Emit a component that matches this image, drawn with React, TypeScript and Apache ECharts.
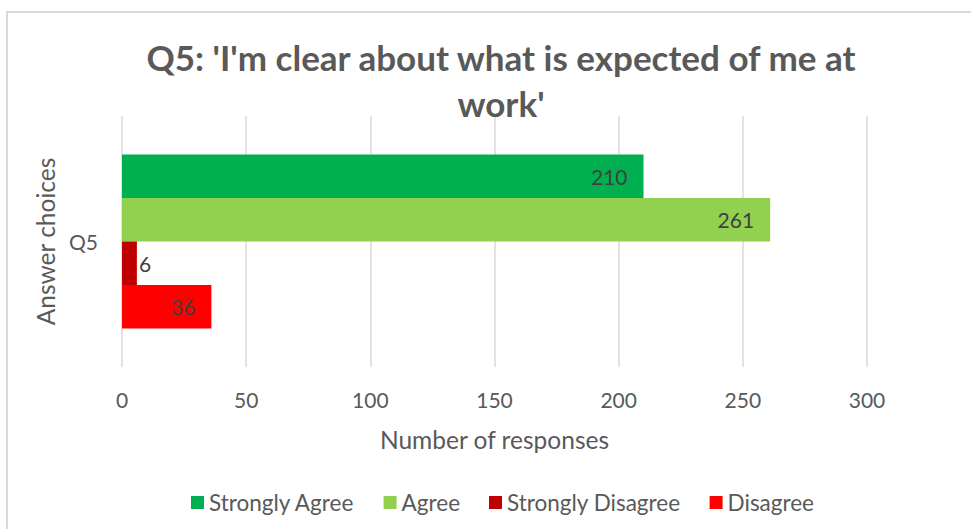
import React, { useEffect, useRef } from "react";
import * as echarts from "echarts";

const categories = ["Q5"];
const seriesNames = ["Strongly Agree", "Agree", "Strongly Disagree", "Disagree"];
const stronglyAgree = [210];
const agree = [261];
const stronglyDisagree = [6];
const disagree = [36];
const xTicks = { min: 0, max: 300, interval: 50 };

const colors = ["#00B050", "#92D050", "#C00000", "#FF0000"];
const FONT = "Lato";

export default function App() {
  const ref = useRef<HTMLDivElement>(null);
  useEffect(() => {
    if (!ref.current) return;
    const chart = echarts.init(ref.current, null, { renderer: "svg" });
    const values = [stronglyAgree, agree, stronglyDisagree, disagree];
    const labelCfg = (i: number) =>
      i === 2
        ? { show: true, position: "right", distance: 2 }
        : { show: true, position: "insideRight", distance: 16 };
    chart.setOption({
      animation: false,
      backgroundColor: "#ffffff",
      textStyle: { fontFamily: FONT },
      title: {
        text: "Q5: 'I'm clear about what is expected of me at\nwork'",
        left: 496,
        top: 29,
        textAlign: "center",
        textStyle: {
          fontFamily: FONT,
          fontWeight: "bold",
          fontSize: 35,
          lineHeight: 46,
          color: "#595959",
        },
      },
      legend: {
        data: seriesNames,
        left: 191,
        top: 491,
        padding: 0,
        itemWidth: 13,
        itemHeight: 13,
        itemGap: 29,
        icon: "rect",
        textStyle: { fontFamily: FONT, fontSize: 22.5, color: "#595959" },
      },
      grid: { left: 122, top: 116, width: 745, height: 251, containLabel: false },
      xAxis: {
        type: "value",
        min: xTicks.min,
        max: xTicks.max,
        interval: xTicks.interval,
        name: "Number of responses",
        nameLocation: "middle",
        nameGap: 60,
        nameTextStyle: { fontFamily: FONT, fontSize: 24.5, color: "#595959" },
        axisLine: { show: false },
        axisTick: { show: false },
        axisLabel: { margin: 22, fontFamily: FONT, fontSize: 21, color: "#595959" },
        splitLine: { show: true, lineStyle: { color: "#d9d9d9", width: 1.5 } },
      },
      yAxis: {
        type: "category",
        data: categories,
        inverse: true,
        name: "Answer choices",
        nameLocation: "middle",
        nameGap: 59,
        nameRotate: 90,
        nameTextStyle: { fontFamily: FONT, fontSize: 24.5, color: "#595959" },
        axisLine: { show: false },
        axisTick: { show: false },
        axisLabel: { margin: 24, fontFamily: FONT, fontSize: 21, color: "#595959" },
        splitLine: { show: false },
      },
      series: seriesNames.map((name, i) => ({
        name,
        type: "bar",
        data: values[i],
        barGap: "0%",
        barCategoryGap: "30.7%",
        itemStyle: { color: colors[i] },
        label: {
          ...labelCfg(i),
          fontFamily: FONT,
          fontSize: 21,
          color: "#404040",
        },
      })),
      graphic: [
        {
          type: "rect",
          shape: { x: 7, y: 12, width: 1000, height: 600 },
          style: { fill: "none", stroke: "#d9d9d9", lineWidth: 2 },
          silent: true,
        },
      ],
    });
    return () => chart.dispose();
  }, []);
  return (
    <div
      ref={ref}
      style={{ position: "fixed", left: 0, top: 0, width: 971, height: 529 }}
    />
  );
}
